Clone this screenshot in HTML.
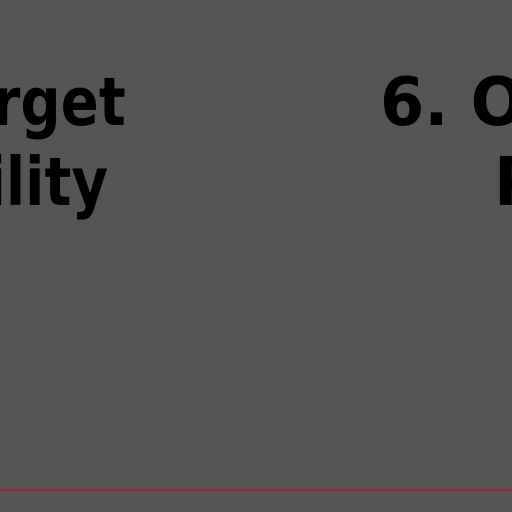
<!DOCTYPE html>
<html><head><style>
html,body{margin:0;padding:0;}
body{width:512px;height:512px;background:#555555;position:relative;overflow:hidden;font-family:"DejaVu Sans","Liberation Sans",sans-serif;font-weight:bold;font-size:67px;color:#000;}
.t{position:absolute;white-space:nowrap;line-height:1;}
.l{transform:scaleX(0.84);transform-origin:right center;}
.r{transform:scaleX(0.95);transform-origin:left center;}
</style></head><body>
<div class="t l" style="right:386px;top:69px;">Target</div>
<div class="t l" style="right:404px;top:149px;">Availability</div>
<div class="t r" style="left:380px;top:69px;">6. Overview</div>
<div class="t r" style="left:494px;top:149px;">Plan</div>
<div style="position:absolute;left:0;top:489px;width:512px;height:2px;background:#9a2530;"></div>
</body></html>
